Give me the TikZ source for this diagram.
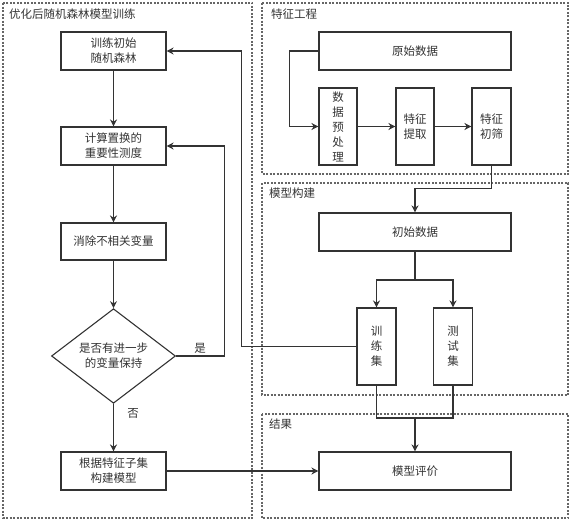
\documentclass[tikz,border=0pt]{standalone}
\usepackage{fontspec}
\setmainfont{Noto Sans CJK SC}
\usetikzlibrary{arrows.meta,shapes.geometric}
\begin{document}
\begin{tikzpicture}[x=1pt,y=-1pt,
  font=\fontsize{11.5}{15}\selectfont,
  box/.style={draw=black!80, line width=1.1pt, inner sep=0pt, align=center, text=black!80},
  panel/.style={draw=black!60, line width=1.1pt, dash pattern=on 2pt off 1.5pt},
  ptitle/.style={anchor=west, inner sep=0pt, text=black!80},
  arr/.style={draw=black!80, line width=1.1pt, -{Stealth[length=7pt,width=7pt]}},
  ln/.style={draw=black!80, line width=1.1pt},
  lab/.style={inner sep=0pt, text=black!80}]
\useasboundingbox (0,0) rectangle (571,522);
% panels
\draw[panel] (3,3) rectangle (252,518);
\draw[panel] (262,3) rectangle (568,174);
\draw[panel] (262,183) rectangle (568,395);
\draw[panel] (262,414) rectangle (568,518);
\node[ptitle] (t1) at (9,14) {优化后随机森林模型训练};
\node[ptitle] (t2) at (271,14) {特征工程};
\node[ptitle] (t3) at (269,193) {模型构建};
\node[ptitle] (t4) at (269,424) {结果};
% left column
\node[box, minimum width=105pt, minimum height=38pt] (b1) at (113.5,51) {训练初始\\随机森林};
\node[box, minimum width=105pt, minimum height=38pt] (b2) at (113.5,146) {计算置换的\\重要性测度};
\node[box, minimum width=105pt, minimum height=37pt] (b3) at (113.5,241.5) {消除不相关变量};
\node[box, shape=diamond, minimum width=124pt, minimum height=76pt] (d) at (113.5,356) {是否有进一步\\的变量保持};
\node[box, minimum width=105pt, minimum height=38pt] (b4) at (113.5,471) {根据特征子集\\构建模型};
% right column
\node[box, minimum width=192pt, minimum height=38pt] (raw) at (415,51) {原始数据};
\node[box, minimum width=38pt, minimum height=77pt] (pre) at (338,126.5) {数\\据\\预\\处\\理};
\node[box, minimum width=38pt, minimum height=77pt] (ext) at (415,126.5) {特征\\提取};
\node[box, minimum width=39pt, minimum height=77pt] (scr) at (491.5,126.5) {特征\\初筛};
\node[box, minimum width=192pt, minimum height=38pt] (init) at (415,232) {初始数据};
\node[box, minimum width=39pt, minimum height=77pt] (train) at (376.5,346.5) {训\\练\\集};
\node[box, minimum width=39pt, minimum height=77pt] (test) at (453,346.5) {测\\试\\集};
\node[box, minimum width=192pt, minimum height=38pt] (eval) at (415,471) {模型评价};
% connectors left
\draw[arr] (b1) -- (b2);
\draw[arr] (b2) -- (b3);
\draw[arr] (b3) -- (d.north);
\draw[arr] (d.south) -- (b4);
\node[lab] (no) at (133,413) {否};
\draw[arr] (d.east) -- ++(48,0) |- (b2.east);
\node[lab] (yes) at (200,348) {是};
\draw[arr] (train.west) -- ++(-115,0) |- (b1.east);
\draw[arr] (b4) -- (eval);
% connectors right
\draw[arr] (raw.west) -- ++(-29,0) |- (pre.west);
\draw[arr] (pre) -- (ext);
\draw[arr] (ext) -- (scr);
\draw[arr] (scr.south) -- ++(0,23) -| (init.north);
\coordinate (split) at (415,280);
\draw[ln] (init.south) -- (split);
\draw[arr] (split) -| (train.north);
\draw[arr] (split) -| (test.north);
\coordinate (merge) at (415,418);
\draw[ln] (train.south) |- (merge) -| (test.south);
\draw[arr] (merge) -- (eval.north);
\end{tikzpicture}
\end{document}
